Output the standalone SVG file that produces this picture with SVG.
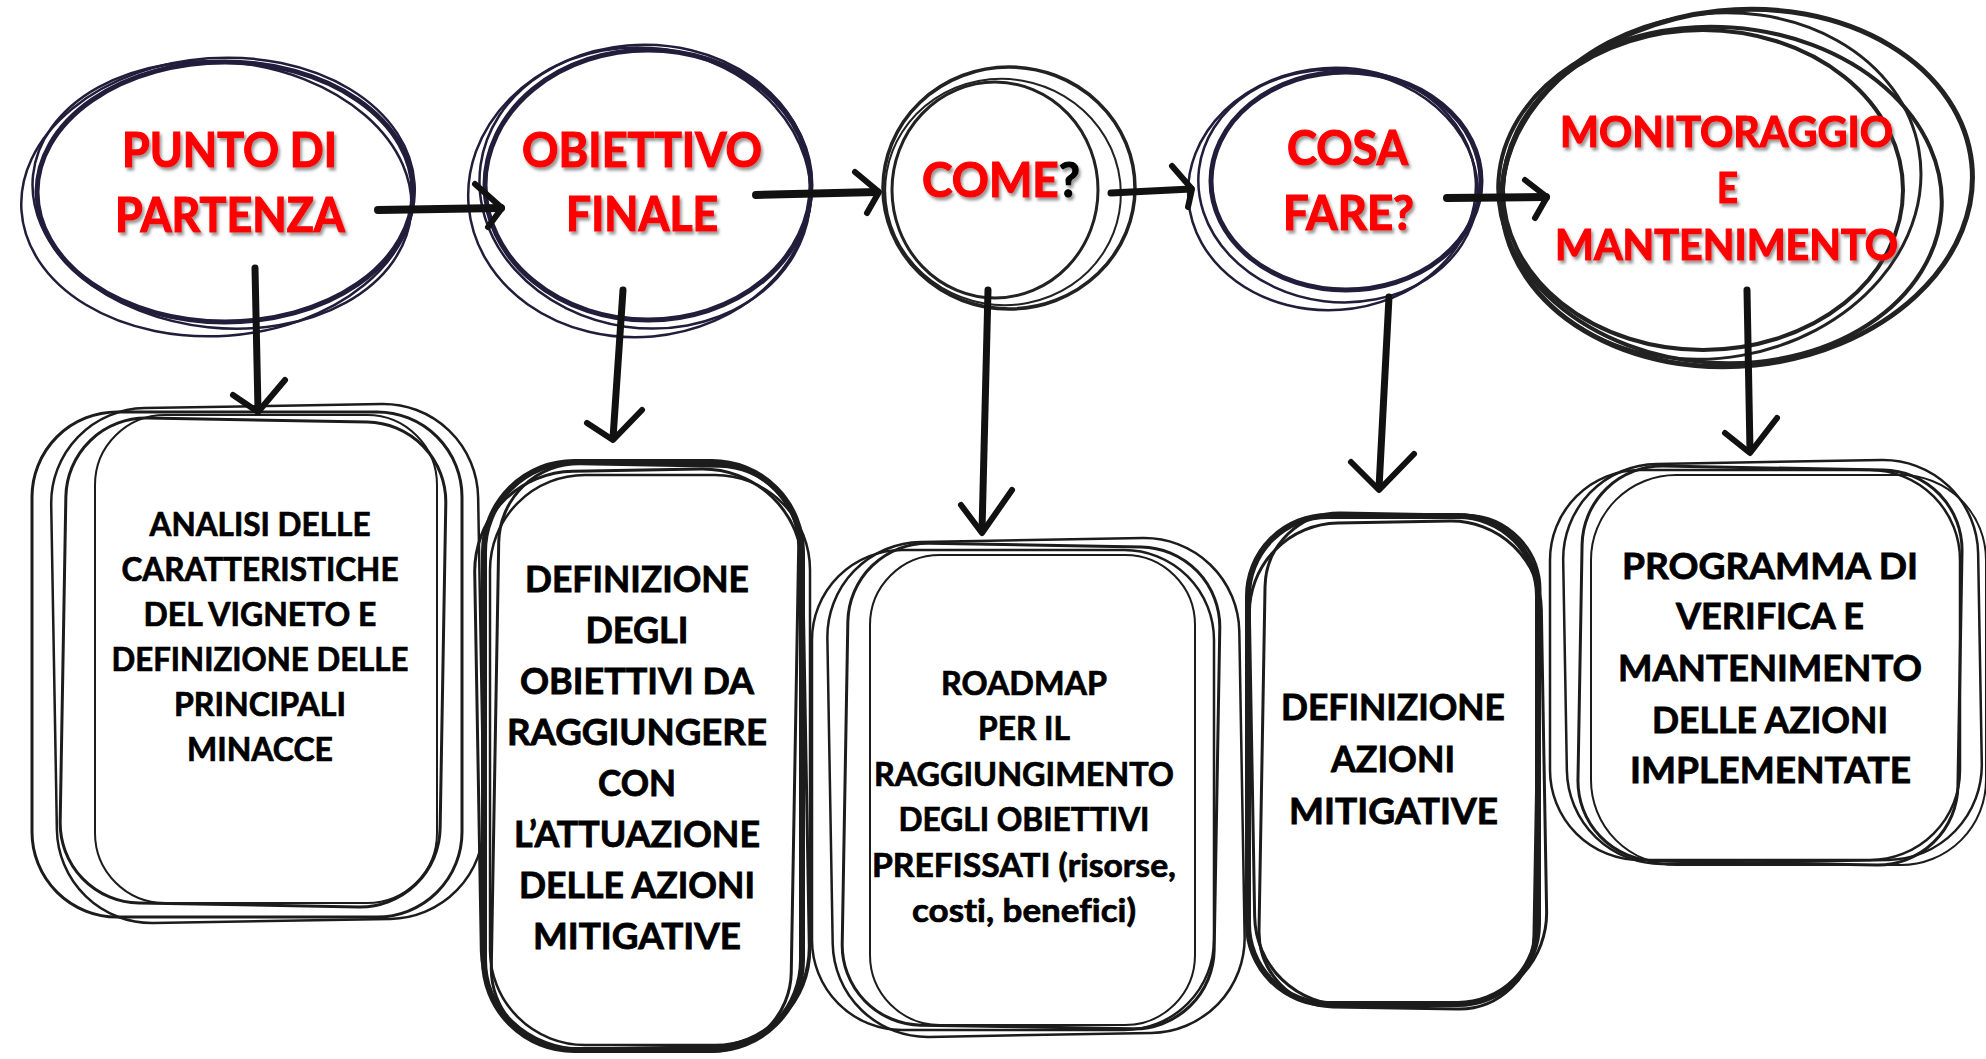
<svg xmlns="http://www.w3.org/2000/svg" width="1986" height="1059" viewBox="0 0 1986 1059">
<defs>
<style>
.nv{fill:none;stroke:#211d3a;}
.bk{fill:none;stroke:#222;}
.bx{fill:none;stroke:#1c1c1c;}
.t{font-family:Lato,"Liberation Sans",sans-serif;font-weight:bold;font-variant-ligatures:none;font-feature-settings:"liga" 0;}
.red{fill:#ff0000;stroke:#ff0000;stroke-width:1.2px;filter:url(#sh);}
.big{font-size:47px;}
.mon{font-size:42px;}
.b32{font-size:32px;fill:#000;stroke:#000;stroke-width:0.7px;}
.b36{font-size:36px;fill:#000;stroke:#000;stroke-width:0.8px;}
.con{fill:none;stroke:#111;stroke-linecap:round;stroke-linejoin:round;}
</style>
<filter id="sh" x="-10%" y="-20%" width="120%" height="150%">
<feDropShadow dx="2" dy="3" stdDeviation="1.5" flood-color="#444" flood-opacity="0.55"/>
</filter>
</defs>
<rect width="1986" height="1059" fill="#fff"/>

<g id="node-punto">
<ellipse class="nv" cx="225" cy="192" rx="188" ry="130" stroke-width="5"/>
<ellipse class="nv" cx="218" cy="197" rx="197" ry="139" transform="rotate(-4 218 197)" stroke-width="2.5"/>
<ellipse class="nv" cx="222" cy="195" rx="190" ry="133" transform="rotate(6 222 195)" stroke-width="2.5"/>
<text class="t big red" x="122" y="167" textLength="215" lengthAdjust="spacingAndGlyphs">PUNTO DI</text>
<text class="t big red" x="115" y="232" textLength="230" lengthAdjust="spacingAndGlyphs">PARTENZA</text>
</g>

<g id="node-obiettivo">
<ellipse class="nv" cx="648" cy="185" rx="163" ry="135" stroke-width="5"/>
<ellipse class="nv" cx="640" cy="191" rx="172" ry="146" transform="rotate(-5 640 191)" stroke-width="2.5"/>
<ellipse class="nv" cx="645" cy="188" rx="166" ry="140" transform="rotate(8 645 188)" stroke-width="2.5"/>
<text class="t big red" x="522" y="167" textLength="240" lengthAdjust="spacingAndGlyphs">OBIETTIVO</text>
<text class="t big red" x="566" y="231" textLength="152" lengthAdjust="spacingAndGlyphs">FINALE</text>
</g>

<g id="node-come">
<ellipse class="bk" cx="995" cy="190" rx="103" ry="108" stroke-width="3"/>
<ellipse class="bk" cx="1009" cy="188" rx="126" ry="121" stroke-width="3.5"/>
<ellipse class="bk" cx="1003" cy="192" rx="118" ry="113" transform="rotate(10 1003 192)" stroke-width="2"/>
<text class="t big" x="922" y="197" textLength="158" lengthAdjust="spacingAndGlyphs" filter="url(#sh)"><tspan fill="#ff0000" stroke="#ff0000" stroke-width="1.2">COME</tspan><tspan fill="#000" stroke="#000" stroke-width="1.2">?</tspan></text>
</g>

<g id="node-cosa">
<ellipse class="nv" cx="1346" cy="181" rx="135" ry="109" stroke-width="5"/>
<ellipse class="nv" cx="1332" cy="189" rx="144" ry="121" transform="rotate(-4 1332 189)" stroke-width="2.5"/>
<ellipse class="nv" cx="1338" cy="186" rx="140" ry="116" transform="rotate(7 1338 186)" stroke-width="2.5"/>
<text class="t big red" x="1287" y="165" textLength="121" lengthAdjust="spacingAndGlyphs">COSA</text>
<text class="t big red" x="1283" y="230" textLength="131" lengthAdjust="spacingAndGlyphs">FARE?</text>
</g>

<g id="node-monitoraggio">
<ellipse class="bk" cx="1737" cy="188" rx="236" ry="178" transform="rotate(-6 1737 188)" stroke-width="5"/>
<ellipse class="bk" cx="1703" cy="190" rx="200" ry="160" stroke-width="4"/>
<ellipse class="bk" cx="1720" cy="195" rx="222" ry="168" transform="rotate(4 1720 195)" stroke-width="4"/>
<ellipse class="bk" cx="1712" cy="186" rx="210" ry="172" transform="rotate(-10 1712 186)" stroke-width="3"/>
<text class="t mon red" x="1560" y="147" textLength="333" lengthAdjust="spacingAndGlyphs">MONITORAGGIO</text>
<text class="t mon red" x="1717" y="203" textLength="21" lengthAdjust="spacingAndGlyphs">E</text>
<text class="t mon red" x="1555" y="260" textLength="343" lengthAdjust="spacingAndGlyphs">MANTENIMENTO</text>
</g>

<g id="node-analisi">
<rect class="bx" x="32" y="412" width="430" height="505" rx="85" stroke-width="3"/>
<rect class="bx" x="54" y="406" width="427" height="515" rx="95" stroke-width="2.5" transform="rotate(-1 267 663)"/>
<rect class="bx" x="63" y="420" width="380" height="485" rx="80" stroke-width="3" transform="rotate(1 253 662)"/>
<rect class="bx" x="95" y="415" width="342" height="488" rx="70" stroke-width="2"/>
<text class="t b32" x="149.5" y="536" textLength="221" lengthAdjust="spacingAndGlyphs">ANALISI DELLE</text>
<text class="t b32" x="121.5" y="581" textLength="277" lengthAdjust="spacingAndGlyphs">CARATTERISTICHE</text>
<text class="t b32" x="143.5" y="626" textLength="233" lengthAdjust="spacingAndGlyphs">DEL VIGNETO E</text>
<text class="t b32" x="111.5" y="671" textLength="297" lengthAdjust="spacingAndGlyphs">DEFINIZIONE DELLE</text>
<text class="t b32" x="174" y="716" textLength="172" lengthAdjust="spacingAndGlyphs">PRINCIPALI</text>
<text class="t b32" x="187" y="761" textLength="146" lengthAdjust="spacingAndGlyphs">MINACCE</text>
</g>

<g id="node-definizione-obiettivi">
<rect class="bx" x="484" y="462" width="318" height="588" rx="90" stroke-width="6"/>
<rect class="bx" x="478" y="470" width="328" height="578" rx="100" stroke-width="3" transform="rotate(-1 642 759)"/>
<rect class="bx" x="495" y="465" width="300" height="585" rx="80" stroke-width="3" transform="rotate(1 645 757)"/>
<rect class="bx" x="490" y="475" width="320" height="570" rx="95" stroke-width="2.5"/>
<text class="t b36" x="525" y="592" textLength="224" lengthAdjust="spacingAndGlyphs">DEFINIZIONE</text>
<text class="t b36" x="585.5" y="643" textLength="103" lengthAdjust="spacingAndGlyphs">DEGLI</text>
<text class="t b36" x="520" y="694" textLength="234" lengthAdjust="spacingAndGlyphs">OBIETTIVI DA</text>
<text class="t b36" x="507" y="745" textLength="260" lengthAdjust="spacingAndGlyphs">RAGGIUNGERE</text>
<text class="t b36" x="598" y="796" textLength="78" lengthAdjust="spacingAndGlyphs">CON</text>
<text class="t b36" x="514" y="847" textLength="246" lengthAdjust="spacingAndGlyphs">L’ATTUAZIONE</text>
<text class="t b36" x="519" y="898" textLength="236" lengthAdjust="spacingAndGlyphs">DELLE AZIONI</text>
<text class="t b36" x="533" y="949" textLength="208" lengthAdjust="spacingAndGlyphs">MITIGATIVE</text>
</g>

<g id="node-roadmap">
<rect class="bx" x="812" y="550" width="402" height="480" rx="90" stroke-width="2.5"/>
<rect class="bx" x="830" y="540" width="412" height="495" rx="95" stroke-width="2.5" transform="rotate(-1 1035 787)"/>
<rect class="bx" x="845" y="545" width="372" height="482" rx="80" stroke-width="3" transform="rotate(1 1030 786)"/>
<rect class="bx" x="870" y="555" width="325" height="470" rx="70" stroke-width="2"/>
<text class="t b32" x="941" y="695" textLength="166" lengthAdjust="spacingAndGlyphs">ROADMAP</text>
<text class="t b32" x="978" y="740" textLength="92" lengthAdjust="spacingAndGlyphs">PER IL</text>
<text class="t b32" x="874" y="786" textLength="300" lengthAdjust="spacingAndGlyphs">RAGGIUNGIMENTO</text>
<text class="t b32" x="898.5" y="831" textLength="251" lengthAdjust="spacingAndGlyphs">DEGLI OBIETTIVI</text>
<text class="t b32" x="872" y="877" textLength="304" lengthAdjust="spacingAndGlyphs">PREFISSATI (risorse,</text>
<text class="t b32" x="912" y="922" textLength="224" lengthAdjust="spacingAndGlyphs">costi, benefici)</text>
</g>

<g id="node-definizione-azioni">
<rect class="bx" x="1248" y="516" width="290" height="488" rx="80" stroke-width="6"/>
<rect class="bx" x="1252" y="522" width="292" height="482" rx="90" stroke-width="3" transform="rotate(-1 1398 763)"/>
<rect class="bx" x="1262" y="514" width="275" height="494" rx="75" stroke-width="3" transform="rotate(1 1399 761)"/>
<text class="t b36" x="1281" y="720" textLength="224" lengthAdjust="spacingAndGlyphs">DEFINIZIONE</text>
<text class="t b36" x="1331" y="772" textLength="124" lengthAdjust="spacingAndGlyphs">AZIONI</text>
<text class="t b36" x="1289" y="824" textLength="209" lengthAdjust="spacingAndGlyphs">MITIGATIVE</text>
</g>

<g id="node-programma">
<rect class="bx" x="1550" y="470" width="410" height="390" rx="90" stroke-width="2.5"/>
<rect class="bx" x="1565" y="462" width="415" height="400" rx="95" stroke-width="2.5" transform="rotate(-1 1772 662)"/>
<rect class="bx" x="1580" y="468" width="380" height="395" rx="80" stroke-width="3" transform="rotate(1 1770 665)"/>
<rect class="bx" x="1591" y="475" width="395" height="390" rx="85" stroke-width="2"/>
<text class="t b36" x="1622" y="579" textLength="296" lengthAdjust="spacingAndGlyphs">PROGRAMMA DI</text>
<text class="t b36" x="1676" y="629" textLength="188" lengthAdjust="spacingAndGlyphs">VERIFICA E</text>
<text class="t b36" x="1618" y="681" textLength="304" lengthAdjust="spacingAndGlyphs">MANTENIMENTO</text>
<text class="t b36" x="1652" y="733" textLength="236" lengthAdjust="spacingAndGlyphs">DELLE AZIONI</text>
<text class="t b36" x="1630" y="783" textLength="281" lengthAdjust="spacingAndGlyphs">IMPLEMENTATE</text>
</g>

<g id="connectors">
<path class="con" stroke-width="8" d="M378 210 L501 208"/>
<path class="con" stroke-width="6" d="M475 184 L502 208 L488 227"/>
<path class="con" stroke-width="8" d="M756 195 L877 192"/>
<path class="con" stroke-width="6" d="M855 172 L879 192 L867 213"/>
<path class="con" stroke-width="7" d="M1111 193 L1191 189"/>
<path class="con" stroke-width="6" d="M1172 166 L1192 189 L1188 207"/>
<path class="con" stroke-width="8" d="M1447 198 L1546 197"/>
<path class="con" stroke-width="6" d="M1525 180 L1547 197 L1535 218"/>

<path class="con" stroke-width="7" d="M255 268 L258 410"/>
<path class="con" stroke-width="6" d="M233 395 L258 412 L285 380"/>
<path class="con" stroke-width="7" d="M623 290 L613 438"/>
<path class="con" stroke-width="6" d="M587 423 L613 440 L642 410"/>
<path class="con" stroke-width="7" d="M988 290 L982 531"/>
<path class="con" stroke-width="6" d="M961 505 L982 533 L1012 490"/>
<path class="con" stroke-width="7" d="M1389 297 L1379 488"/>
<path class="con" stroke-width="6" d="M1351 462 L1379 490 L1414 454"/>
<path class="con" stroke-width="7" d="M1747 290 L1750 451"/>
<path class="con" stroke-width="6" d="M1725 433 L1750 453 L1777 418"/>
</g>
</svg>
